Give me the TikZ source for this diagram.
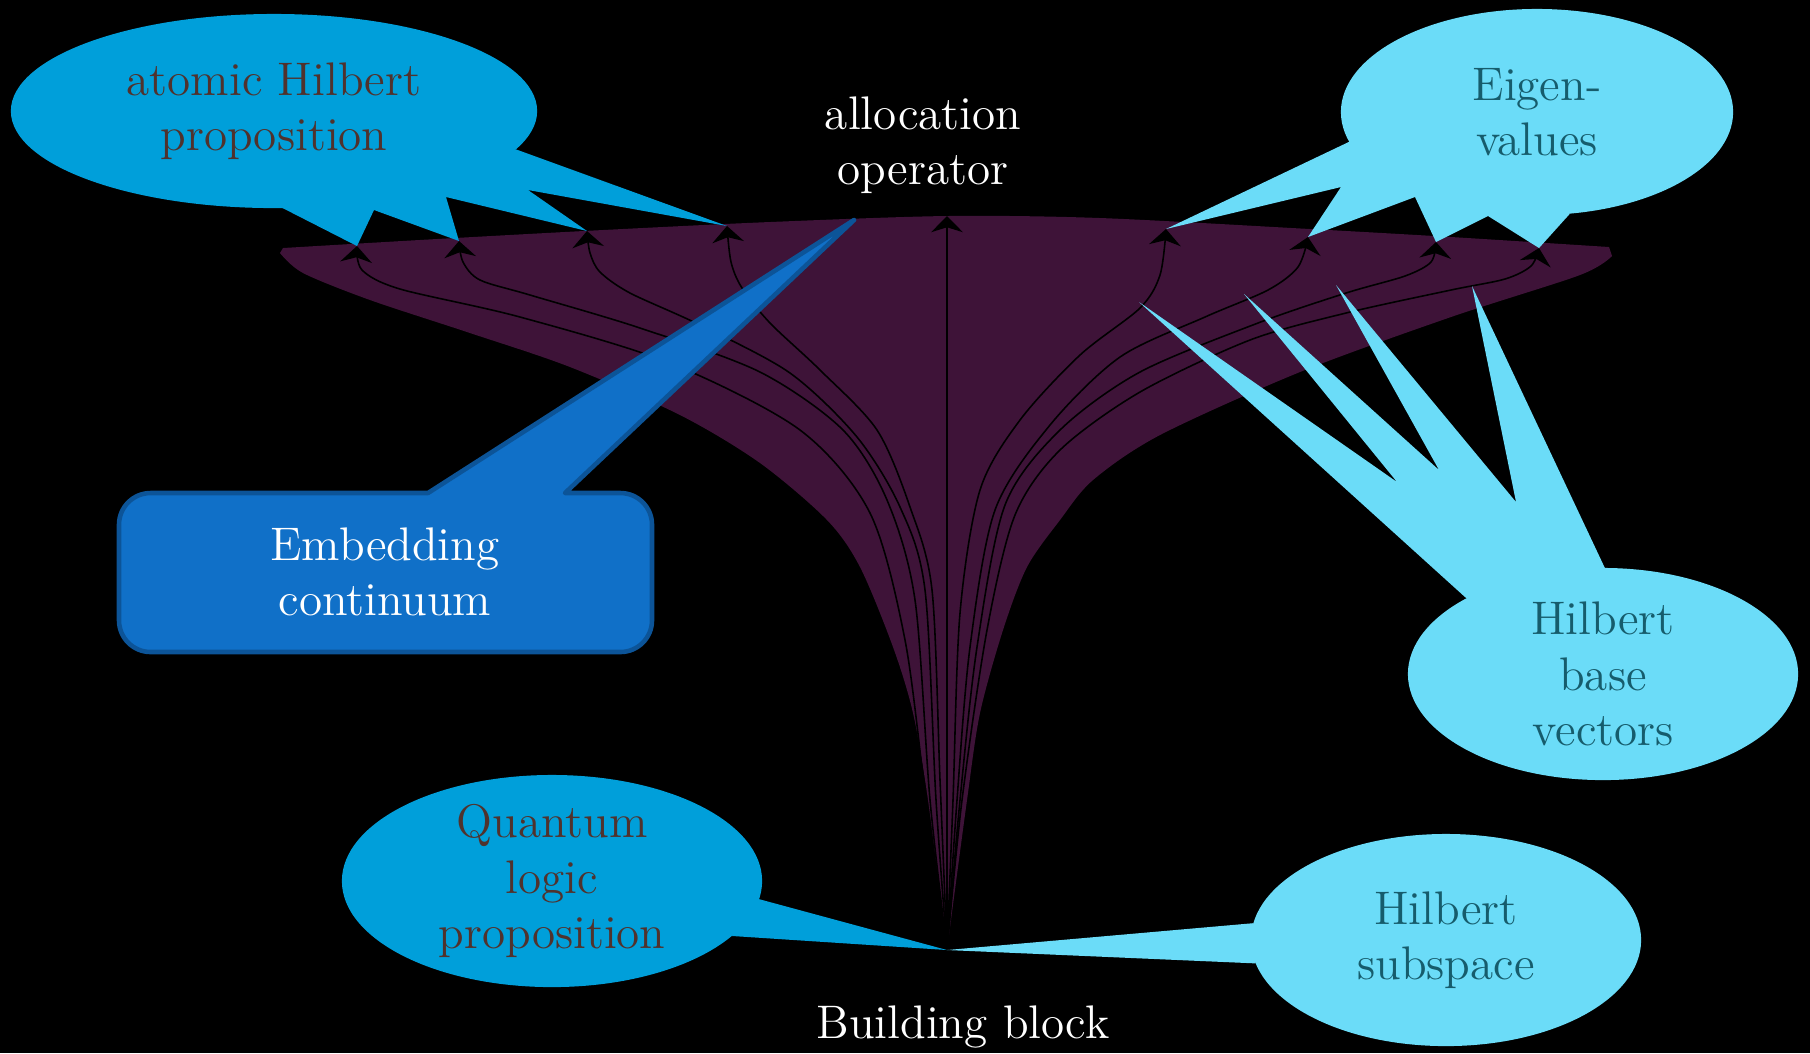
\documentclass[tikz,border=0pt]{standalone}
\usepackage{xcolor}
\usepackage{tikz}
\usetikzlibrary{arrows.meta}
\usetikzlibrary{shapes,positioning}

\definecolor{funnel}{RGB}{62,19,56}
\definecolor{callblue}{RGB}{0,159,218}
\definecolor{callcyan}{RGB}{107,220,248}
\definecolor{bluetext}{RGB}{80,50,45}
\definecolor{cyantext}{RGB}{22,92,108}
\definecolor{embfill}{RGB}{16,112,200}
\definecolor{embline}{RGB}{12,84,152}

\tikzset{
  lbl/.style={align=center,font=\fontsize{13.4}{15.8}\selectfont},
  darkbub/.style={ellipse,fill=callblue,inner sep=0pt,outer sep=0pt},
  lightbub/.style={ellipse,fill=callcyan,inner sep=0pt,outer sep=0pt},
  darktxt/.style={lbl,text=bluetext},
  lighttxt/.style={lbl,text=cyantext},
  whitetxt/.style={lbl,text=white},
  flow/.style={line width=0.45pt,-{Stealth[length=4.6pt,width=9pt,inset=1.4pt]}},
  embcall/.style={fill=embfill,draw=embline,line width=1.3pt,line join=round},
}

\begin{document}
\begin{tikzpicture}[x=0.01cm,y=-0.01cm]
    \fill[black] (0,0) rectangle (1810,1053);
    \useasboundingbox (0,0) rectangle (1810,1053);

    % building block and the eigenvalue tips
    \coordinate (bb) at (947,950);
    \coordinate (top) at (947,216);
    \coordinate (t1) at (357,246);
    \coordinate (t2) at (459,241);
    \coordinate (t3) at (587,231);
    \coordinate (t4) at (727,226);
    \coordinate (t6) at (1166,229);
    \coordinate (t7) at (1308,237);
    \coordinate (t8) at (1436,242);
    \coordinate (t9) at (1539,248);
    \coordinate (emb) at (854,220);
    \coordinate (v1) at (1139,302);
    \coordinate (v2) at (1244,294);
    \coordinate (v3) at (1336,285);
    \coordinate (v4) at (1472,286);

    % the funnel
    \fill[funnel] plot[smooth] coordinates {(280,253) (303,273) (370,300) (470,333)
        (570,367) (680,415) (760,463) (827,520) (860,567) (893,647) (913,713) (928,800) (bb)}
      -- plot[smooth] coordinates {(bb) (967,800) (980,713) (1003,630) (1027,567) (1060,520)
        (1093,480) (1160,435) (1300,372) (1451,317) (1580,275) (1612,256)}
      -- plot[smooth] coordinates {(1609,247) (1451,237) (1310,229) (1100,218) (947,216)
        (770,222) (603,230) (437,239) (283,248)} -- cycle;

    \draw[flow] plot[smooth] coordinates {(bb) (926,800) (905,640) (870,513) (800,430)
        (670,363) (520,317) (400,289) (362,270) (t1)};
    \draw[flow] plot[smooth] coordinates {(bb) (930,800) (915,600) (887,500) (843,430)
        (760,372) (640,328) (530,295) (480,280) (463,262) (t2)};
    \draw[flow] plot[smooth] coordinates {(bb) (936,800) (925,590) (900,507) (857,437)
        (790,373) (700,325) (630,293) (600,272) (590,253) (t3)};
    \draw[flow] plot[smooth] coordinates {(bb) (940,780) (932,590) (910,507) (877,430)
        (820,370) (770,323) (742,288) (731,262) (t4)};
    \draw[flow] (bb) -- (top);
    \draw[flow] plot[smooth] coordinates {(bb) (953,800) (960,613) (980,490) (1020,420)
        (1080,355) (1140,308) (1160,275) (t6)};
    \draw[flow] plot[smooth] coordinates {(bb) (957,800) (970,647) (995,510) (1050,425)
        (1120,357) (1205,317) (1268,290) (1298,267) (t7)};
    \draw[flow] plot[smooth] coordinates {(bb) (960,800) (977,647) (1005,505) (1060,430)
        (1140,372) (1258,323) (1346,293) (1405,276) (1431,262) (t8)};
    \draw[flow] plot[smooth] coordinates {(bb) (962,800) (987,630) (1015,515) (1060,450)
        (1140,392) (1250,340) (1346,313) (1451,290) (1505,279) (1531,266) (t9)};

    % callouts
    \node[darkbub,minimum width=5.26cm,minimum height=1.94cm] (atomicbub) at (274,111) {};
    \fill[callblue] (atomicbub.275) -- (t1) -- (374,210) -- (t2) -- (446,197) -- (t3)
      -- (528,190) -- (t4) -- (atomicbub.351) -- cycle;
    \node[darktxt] (atomic) at (atomicbub) {atomic Hilbert\\proposition};

    \node[lightbub,minimum width=3.92cm,minimum height=2.06cm] (eigenbub) at (1537,112) {};
    \fill[callcyan] (eigenbub.189) -- (t6) -- (1341,187) -- (t7) -- (1415,197) -- (t8)
      -- (1488,216) -- (t9) -- (eigenbub.288) -- cycle;
    \node[lighttxt] (eigen) at (eigenbub) {Eigen-\\values};

    \node[lightbub,minimum width=3.90cm,minimum height=2.12cm] (basebub) at (1603,674) {};
    \fill[callcyan] (basebub.151) -- (v1) -- (1397,482) -- (v2) -- (1439,470) -- (v3)
      -- (1516,502) -- (v4) -- (basebub.89) -- cycle;
    \node[lighttxt] (basevec) at (basebub) {Hilbert\\base\\vectors};

    \node[darkbub,minimum width=4.20cm,minimum height=2.12cm] (qbub) at (552,881) {};
    \fill[callblue] (qbub.355) -- (bb) -- (qbub.343) -- cycle;
    \node[darktxt] (qlogic) at (qbub) {Quantum\\logic\\proposition};

    \node[lightbub,minimum width=3.90cm,minimum height=2.12cm] (subbub) at (1446,940) {};
    \fill[callcyan] (subbub.175) -- (bb) -- (subbub.187) -- cycle;
    \node[lighttxt] (subspace) at (subbub) {Hilbert\\subspace};

    \draw[embcall,rounded corners=9pt] (119,572) -- (119,493) [sharp corners] -- (428,493)
      -- (emb) -- (565,493) [rounded corners=9pt] -- (652,493) -- (652,652) -- (119,652) -- cycle;
    \node[whitetxt] (embed) at (385,572) {Embedding\\continuum};

    \node[whitetxt] (alloc) at (923,145) {allocation\\operator};
    \node[whitetxt] (block) at (963,1027) {Building block};
\end{tikzpicture}
\end{document}
